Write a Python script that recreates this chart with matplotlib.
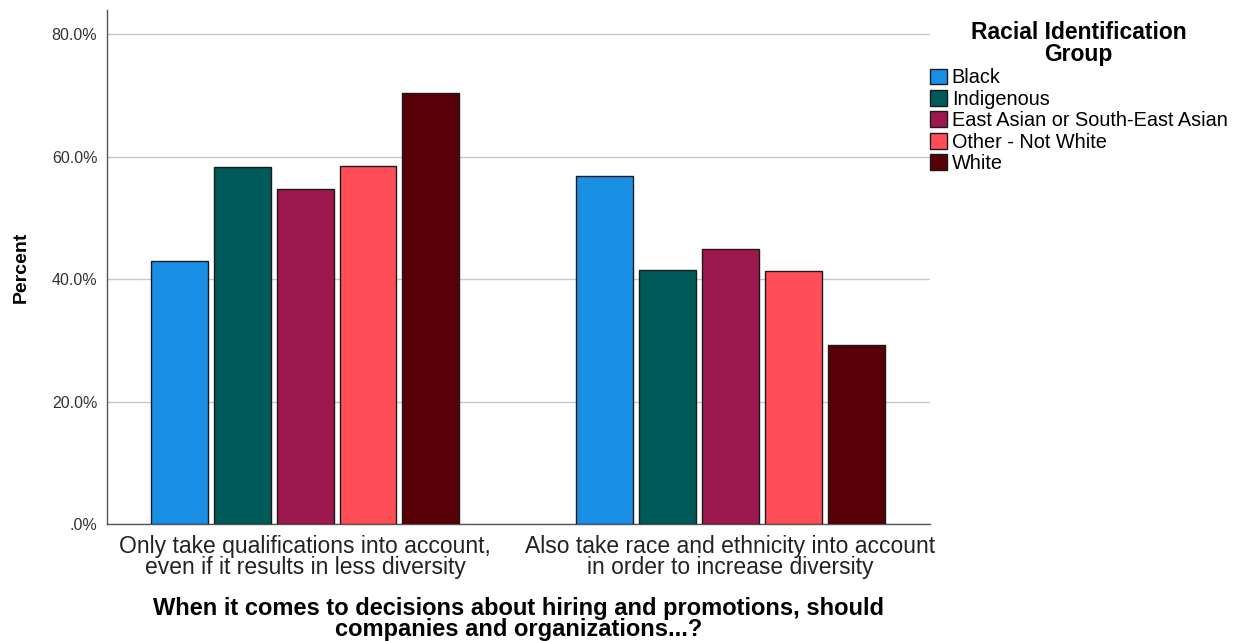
import numpy as np
import matplotlib.pyplot as plt
from matplotlib.ticker import FuncFormatter

plt.rcParams['font.family'] = ['Liberation Sans', 'DejaVu Sans']

categories = ["Only take qualifications into account,\neven if it results in less diversity",
              "Also take race and ethnicity into account\nin order to increase diversity"]
groups = ["Black", "Indigenous", "East Asian or South-East Asian", "Other - Not White", "White"]
black = [43.0, 56.9]
indigenous = [58.3, 41.5]
east_asian = [54.8, 45.0]
other = [58.5, 41.3]
white = [70.5, 29.3]
series = [black, indigenous, east_asian, other, white]
colors = ["#1A8FE6", "#005A5A", "#9E1850", "#FF4E57", "#570008"]

fig = plt.figure(figsize=(12.36, 6.41), dpi=100)
ax = fig.add_axes([107/1236, 1-524/641, (930-107)/1236, (524-10)/641])

x = np.arange(len(categories))
width = 0.134
step = 0.148
for i, (vals, c, name) in enumerate(zip(series, colors, groups)):
    ax.bar(x + (i - 2) * step, vals, width, color=c, edgecolor="#1a1a1a",
           linewidth=1.0, label=name, zorder=3)

ax.set_xlim(-0.466, 1.47)
ax.set_ylim(0, 84)
ax.set_yticks([0, 20, 40, 60, 80])
ax.yaxis.set_major_formatter(FuncFormatter(lambda v, p: ".0%" if v == 0 else f"{v:.1f}%"))
ax.grid(axis="y", color="#c8c8c8", linewidth=1.0, zorder=0)
ax.set_xticks(x)
ax.set_xticklabels(categories, fontsize=16.5, color="#222222", linespacing=0.9)
ax.tick_params(axis="y", length=0, labelsize=11.5, labelcolor="#333333", pad=7)
ax.tick_params(axis="x", length=0, pad=8)
for s in ["top", "right"]:
    ax.spines[s].set_visible(False)
for s in ["left", "bottom"]:
    ax.spines[s].set_color("#555555")
    ax.spines[s].set_linewidth(1.0)

ax.set_ylabel("Percent", fontsize=14, fontweight="bold", labelpad=16)
ax.set_xlabel("When it comes to decisions about hiring and promotions, should\ncompanies and organizations...?",
              fontsize=17, fontweight="bold", labelpad=13, linespacing=0.85)

leg = fig.legend(loc="upper left", bbox_to_anchor=(922/1236, 1-13/641),
                 title="Racial Identification\nGroup", frameon=False,
                 fontsize=14.3, handlelength=0.85, handleheight=0.85,
                 handletextpad=0.25, labelspacing=0.12, borderaxespad=0)
leg.get_title().set_fontweight("bold")
leg.get_title().set_fontsize(16.5)
leg.get_title().set_multialignment("center")
leg.get_title().set_linespacing(0.95)
leg._legend_box.align = "center"

fig.savefig("out.png", dpi=100)
